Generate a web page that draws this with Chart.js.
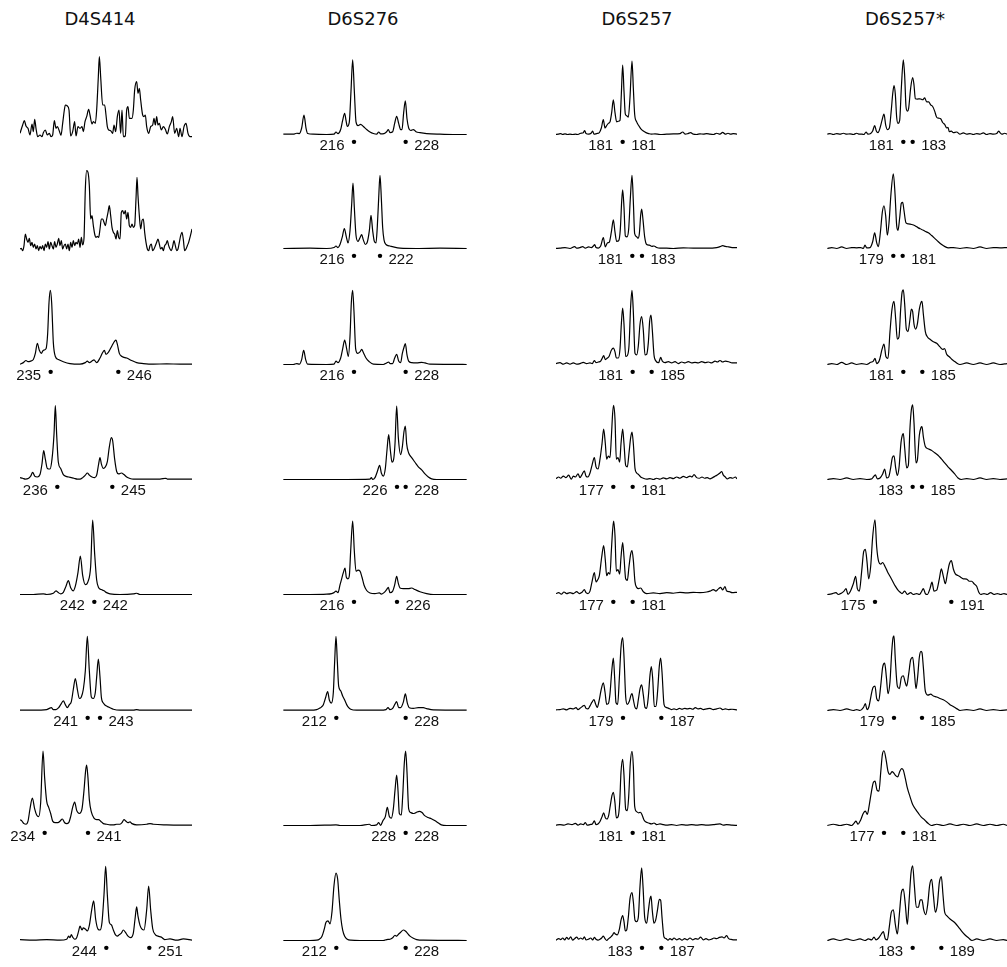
<!DOCTYPE html>
<html>
<head>
<meta charset="utf-8">
<script src="https://cdn.jsdelivr.net/npm/chart.js@4.4.1/dist/chart.umd.min.js"></script>
<style>
  body { margin: 0; background: #fff; width: 1007px; height: 967px; position: relative; overflow: hidden; }
  .title { position: absolute; top: 8px; line-height: 18px; font: 18px "DejaVu Sans", sans-serif; color: #111; transform: translateX(-50%); white-space: nowrap; }
  canvas { position: absolute; }
</style>
</head>
<body>
<script>
// marker names (columns), 8 samples each
const markers = ['D4S414', 'D6S276', 'D6S257', 'D6S257*'];

// traces: flat x,y pairs (x = scan position, y = signal)
const d4s414_r1 = [0,11, 8,36, 13,49, 18,33, 24,26, 30,6, 36,39, 40,16, 44,53, 48,26, 53,1, 60,6, 66,1, 70,13, 76,21, 82,6, 88,11, 93,1, 98,6, 103,49, 108,26, 112,31, 118,18, 123,5, 128,41, 133,81, 136,96, 142,93, 147,81, 152,3, 158,16, 164,46, 168,3, 174,31, 180,26, 186,31, 190,16, 195,46, 200,61, 206,83, 210,66, 216,39, 220,46, 226,41, 230,81, 235,181, 238,241, 242,181, 248,96, 254,96, 258,66, 262,31, 266,21, 272,19, 278,11, 282,36, 287,16, 292,61, 297,81, 302,11, 306,81, 310,1, 316,3, 320,81, 324,91, 328,56, 336,56, 340,81, 344,141, 350,166, 354,131, 358,146, 362,111, 368,66, 372,61, 376,66, 380,31, 386,11, 392,31, 398,36, 402,56, 406,36, 410,61, 414,36, 418,41, 424,21, 430,31, 436,23, 442,9, 448,31, 454,46, 458,61, 464,11, 470,26, 476,1, 480,26, 486,1, 492,31, 498,41, 504,11, 510,1, 516,1];
const d4s414_r2 = [0,6, 4,8, 8,1, 12,16, 16,51, 20,36, 24,26, 28,38, 32,16, 36,26, 40,11, 44,21, 48,6, 52,16, 56,1, 60,14, 64,6, 68,16, 72,1, 76,21, 80,11, 84,28, 88,6, 92,26, 96,16, 100,6, 104,28, 108,11, 112,21, 116,38, 120,16, 124,31, 128,6, 132,16, 136,21, 140,6, 144,21, 148,1, 152,26, 156,11, 160,31, 164,16, 168,26, 172,21, 176,36, 180,11, 184,41, 188,18, 192,38, 196,186, 200,241, 204,236, 208,196, 212,96, 216,106, 220,76, 224,51, 228,41, 232,44, 236,41, 240,66, 244,96, 248,96, 252,86, 256,76, 260,96, 264,116, 268,136, 272,106, 276,71, 280,56, 284,51, 288,36, 292,61, 296,41, 300,36, 304,116, 308,121, 312,111, 316,121, 320,96, 324,116, 328,76, 332,71, 336,81, 340,71, 344,76, 348,156, 351,221, 354,166, 358,106, 362,66, 366,91, 370,96, 374,56, 378,26, 382,6, 386,1, 390,16, 394,21, 398,1, 402,6, 406,16, 410,26, 414,36, 418,21, 422,6, 426,11, 430,1, 434,16, 438,21, 442,31, 446,16, 450,6, 454,1, 458,14, 462,31, 466,16, 470,1, 474,6, 478,26, 482,46, 486,56, 490,34, 494,1, 498,6, 502,16, 506,26, 510,41, 516,66];
const d4s414_r3 = [0,1, 10,6, 18,13, 24,9, 32,11, 40,16, 46,36, 52,69, 58,46, 64,36, 70,46, 78,51, 83,101, 87,201, 91,241, 95,201, 100,71, 106,26, 115,16, 130,9, 150,3, 180,1, 196,6, 202,11, 208,6, 216,11, 222,15, 230,6, 240,21, 248,39, 253,46, 258,33, 266,41, 276,61, 284,76, 288,79, 292,66, 298,36, 306,26, 320,21, 335,13, 350,6, 370,3, 400,1, 440,2, 480,1, 516,1];
const d4s414_r4 = [0,6, 8,4, 16,1, 26,4, 32,11, 38,23, 44,11, 52,8, 60,16, 66,51, 71,94, 76,66, 82,36, 90,34, 96,66, 102,146, 106,240, 110,146, 115,56, 122,36, 130,16, 138,10, 146,8, 154,6, 162,4, 172,1, 180,1, 188,6, 196,14, 202,21, 208,14, 216,8, 224,6, 230,14, 236,51, 240,71, 244,51, 250,36, 256,41, 262,58, 268,106, 274,136, 278,126, 284,66, 290,26, 296,18, 304,21, 312,16, 320,8, 330,3, 340,1, 380,1, 420,1, 438,4, 442,1, 480,1, 516,1];
const d4s414_r5 = [0,0, 40,0, 70,2, 80,0, 100,4, 108,12, 114,7, 122,2, 130,7, 138,27, 145,45, 152,22, 160,12, 166,27, 174,72, 181,125, 188,62, 196,32, 204,42, 212,92, 218,242, 224,132, 230,47, 236,22, 244,16, 252,12, 260,6, 270,2, 300,0, 340,2, 350,4, 360,0, 420,0, 516,0];
const d4s414_r6 = [0,1, 40,1, 80,3, 88,7, 94,9, 100,3, 108,3, 116,9, 122,19, 130,31, 136,19, 142,9, 148,19, 154,29, 160,69, 166,104, 172,69, 178,39, 184,44, 190,69, 196,129, 202,241, 208,129, 214,44, 220,39, 226,59, 230,109, 235,167, 240,109, 244,44, 250,24, 256,17, 262,13, 270,9, 280,4, 300,1, 340,1, 350,3, 360,1, 516,1];
const d4s414_r7 = [0,19, 6,14, 12,6, 18,4, 24,14, 30,54, 37,89, 44,54, 50,34, 56,29, 62,74, 69,242, 74,154, 80,79, 86,59, 92,39, 98,14, 106,9, 114,9, 120,14, 127,21, 134,9, 140,6, 146,9, 152,29, 158,59, 164,76, 170,49, 178,39, 186,54, 192,114, 197,179, 200,196, 204,154, 208,84, 214,44, 222,24, 230,19, 236,19, 242,14, 250,6, 260,4, 270,2, 280,2, 290,4, 300,4, 306,9, 312,19, 318,14, 324,9, 330,12, 336,6, 350,2, 380,4, 390,6, 400,4, 440,2, 516,1];
const d4s414_r8 = [0,3, 40,1, 80,3, 120,1, 140,4, 146,14, 150,9, 154,19, 158,11, 164,4, 170,9, 176,31, 180,47, 186,34, 190,41, 196,37, 202,31, 208,49, 215,99, 221,129, 227,69, 234,37, 240,34, 246,59, 252,149, 257,241, 262,149, 268,59, 274,51, 280,34, 286,19, 292,14, 298,19, 304,24, 310,34, 316,27, 324,14, 332,9, 340,24, 345,69, 350,109, 354,79, 360,49, 366,37, 372,34, 380,99, 386,177, 392,99, 398,39, 406,19, 414,14, 424,11, 434,3, 450,5, 470,1, 490,5, 516,1];

const d6s276_r1 = [1,1, 31,1, 41,4, 49,3, 56,21, 63,63, 69,21, 74,3, 91,1, 131,0, 153,1, 159,8, 165,3, 173,16, 179,46, 185,69, 189,46, 193,26, 199,41, 204,141, 209,243, 214,141, 219,41, 225,29, 233,33, 241,26, 251,16, 261,8, 271,3, 281,1, 287,8, 293,2, 303,3, 311,9, 316,16, 321,6, 329,9, 335,36, 341,59, 347,36, 353,16, 357,16, 362,71, 367,109, 372,51, 377,21, 383,13, 391,16, 399,9, 411,6, 431,3, 471,1, 511,0, 551,0];
const d6s276_r2 = [1,0, 81,1, 131,0, 153,3, 159,8, 165,3, 171,13, 178,38, 184,65, 190,38, 195,18, 201,58, 206,143, 210,213, 214,133, 219,43, 225,23, 231,35, 236,45, 241,28, 247,13, 253,21, 259,58, 264,108, 269,58, 274,23, 279,18, 283,73, 287,163, 291,238, 295,163, 299,68, 303,28, 309,13, 321,8, 331,5, 351,1, 401,0, 471,1, 551,0];
const d6s276_r3 = [1,0, 31,0, 41,3, 49,1, 56,16, 62,46, 68,16, 74,1, 131,0, 153,1, 159,11, 165,6, 173,21, 179,51, 185,79, 191,51, 196,26, 201,91, 205,201, 209,241, 213,171, 218,51, 224,36, 231,41, 236,49, 241,39, 249,21, 259,9, 271,1, 301,0, 311,5, 317,8, 321,3, 329,3, 335,21, 341,33, 347,11, 353,6, 358,36, 363,56, 367,68, 372,31, 377,11, 386,6, 401,5, 416,7, 426,5, 441,1, 551,0];
const d6s276_r4 = [1,0, 131,0, 191,0, 261,1, 265,6, 269,0, 276,6, 283,26, 290,46, 295,21, 301,11, 307,36, 312,96, 317,146, 322,96, 327,56, 332,66, 336,116, 341,239, 346,136, 353,81, 358,106, 363,156, 367,174, 371,116, 377,86, 386,71, 396,56, 406,41, 416,31, 426,18, 436,8, 446,2, 461,0, 551,0];
const d6s276_r5 = [1,0, 81,0, 131,1, 146,3, 153,6, 159,11, 165,6, 171,31, 176,51, 181,71, 186,86, 190,56, 195,51, 199,61, 203,141, 209,239, 214,141, 219,76, 225,79, 231,76, 237,56, 243,31, 251,13, 261,5, 276,3, 289,5, 295,1, 303,6, 311,16, 316,23, 321,6, 329,11, 335,31, 341,59, 346,36, 351,21, 361,19, 376,19, 386,21, 396,16, 411,9, 431,3, 451,0, 551,0];
const d6s276_r6 = [1,1, 81,1, 101,3, 109,7, 115,11, 121,19, 127,39, 134,61, 139,34, 145,24, 151,59, 155,159, 159,241, 163,159, 167,79, 173,64, 179,47, 185,34, 191,19, 197,9, 203,4, 221,1, 291,1, 309,3, 315,9, 321,3, 329,7, 335,19, 341,29, 347,9, 353,9, 361,27, 367,54, 373,24, 379,9, 391,7, 406,9, 421,9, 431,6, 451,2, 551,1];
const d6s276_r7 = [1,0, 81,0, 131,1, 159,2, 171,0, 231,0, 259,4, 265,0, 281,2, 287,9, 293,0, 299,14, 307,29, 313,59, 319,29, 325,24, 331,54, 336,114, 341,164, 345,114, 349,39, 355,34, 359,94, 364,204, 368,242, 372,174, 377,54, 383,42, 391,39, 399,42, 409,46, 417,42, 425,32, 435,26, 445,22, 455,16, 465,9, 475,2, 491,0, 551,0];
const d6s276_r8 = [1,0, 81,0, 101,1, 109,4, 117,14, 123,34, 129,59, 135,64, 141,54, 147,94, 153,179, 159,219, 164,199, 169,129, 174,69, 179,34, 185,14, 193,4, 203,1, 231,0, 301,0, 311,3, 321,4, 329,9, 336,17, 341,14, 347,21, 353,27, 361,34, 367,31, 373,24, 381,14, 391,7, 401,3, 421,1, 551,0];

const d6s257_r1 = [0,0, 7,1, 14,3, 20,0, 27,2, 34,0, 42,1, 50,0, 58,1, 66,0, 74,4, 82,6, 86,13, 90,3, 98,1, 106,5, 110,11, 114,1, 122,3, 130,6, 136,21, 142,48, 147,21, 152,29, 157,36, 162,41, 167,71, 172,113, 177,71, 182,41, 187,43, 192,46, 196,131, 200,226, 204,141, 208,66, 212,61, 217,56, 222,121, 228,239, 232,151, 236,66, 242,41, 248,29, 254,19, 262,11, 270,6, 278,3, 286,1, 297,2, 312,0, 332,1, 352,2, 372,3, 380,8, 388,1, 396,3, 404,6, 412,1, 422,0, 432,2, 442,1, 452,3, 462,1, 472,0, 482,4, 492,1, 500,7, 508,1, 516,4, 524,1, 532,3, 543,1];
const d6s257_r2 = [0,0, 12,1, 27,3, 42,0, 56,6, 62,1, 72,3, 80,6, 88,1, 98,5, 106,3, 112,8, 116,13, 120,3, 127,1, 134,8, 142,35, 148,5, 154,18, 160,21, 166,53, 172,93, 177,53, 182,23, 188,25, 193,63, 197,153, 200,191, 204,133, 208,41, 213,38, 218,63, 223,163, 228,238, 232,153, 236,48, 242,38, 246,33, 250,48, 254,108, 257,128, 261,93, 266,38, 272,13, 280,11, 288,7, 294,8, 302,3, 312,1, 332,1, 352,0, 382,2, 412,1, 452,1, 482,3, 492,6, 500,9, 508,7, 518,5, 528,3, 543,3];
const d6s257_r3 = [0,3, 12,6, 22,1, 32,5, 42,1, 52,5, 62,1, 72,3, 82,7, 92,3, 102,5, 109,3, 115,13, 120,6, 127,8, 134,11, 139,21, 143,29, 148,16, 154,21, 159,26, 166,46, 172,53, 177,41, 181,21, 187,21, 192,51, 196,131, 200,183, 204,131, 209,26, 214,29, 219,61, 224,191, 228,241, 232,171, 237,36, 242,31, 247,61, 252,131, 257,156, 262,111, 267,31, 272,33, 277,71, 281,141, 285,161, 289,111, 294,31, 300,11, 308,6, 314,23, 319,11, 327,6, 337,9, 347,5, 357,9, 367,3, 377,8, 387,5, 397,9, 407,5, 417,7, 427,5, 437,9, 447,6, 457,8, 467,5, 477,11, 484,8, 492,13, 500,8, 508,11, 518,9, 528,5, 543,5];
const d6s257_r4 = [0,3, 8,8, 14,4, 22,11, 30,6, 38,14, 46,1, 52,11, 58,8, 66,18, 72,6, 78,16, 85,28, 90,11, 96,8, 102,21, 108,46, 115,71, 120,41, 126,34, 132,66, 138,116, 143,164, 148,116, 152,66, 157,76, 162,71, 166,136, 170,216, 173,241, 177,196, 181,66, 186,71, 191,56, 195,116, 200,164, 204,116, 209,46, 214,41, 219,86, 224,136, 228,154, 232,116, 237,36, 242,21, 248,16, 254,8, 262,4, 272,1, 282,3, 292,0, 302,4, 312,1, 322,5, 332,2, 342,6, 352,3, 362,8, 372,4, 382,10, 392,6, 402,11, 408,8, 414,16, 422,6, 430,4, 438,8, 446,4, 454,6, 462,2, 470,6, 478,11, 486,16, 492,21, 497,26, 502,14, 508,8, 514,2, 522,6, 530,4, 538,8, 543,2];
const d6s257_r5 = [0,3, 8,6, 16,1, 24,8, 32,3, 42,6, 52,3, 62,9, 70,3, 78,7, 85,16, 90,6, 96,3, 102,11, 108,41, 115,71, 120,41, 124,46, 130,61, 137,121, 143,159, 148,111, 152,61, 157,71, 162,66, 166,141, 170,211, 173,239, 177,191, 181,76, 186,81, 191,66, 195,121, 200,169, 204,121, 209,51, 214,46, 219,91, 224,131, 228,143, 232,111, 237,41, 242,23, 248,19, 254,21, 262,9, 272,3, 292,5, 312,3, 332,6, 352,4, 372,7, 392,5, 412,7, 432,6, 452,8, 462,11, 472,16, 480,11, 488,19, 494,23, 500,15, 507,26, 512,11, 520,9, 528,6, 543,7];
const d6s257_r6 = [0,2, 12,3, 22,5, 32,2, 42,7, 52,5, 60,9, 66,3, 72,7, 79,13, 85,17, 90,7, 96,5, 102,15, 108,27, 114,35, 119,20, 124,10, 129,30, 135,65, 142,90, 147,60, 152,20, 157,22, 162,55, 167,125, 172,170, 176,105, 180,25, 185,20, 190,105, 195,205, 200,237, 204,175, 209,45, 214,20, 220,30, 225,50, 228,55, 232,35, 237,10, 242,5, 247,35, 252,70, 257,83, 262,50, 267,10, 272,7, 277,45, 282,115, 286,143, 290,105, 295,13, 300,13, 305,65, 310,145, 314,170, 318,125, 324,20, 330,10, 338,7, 346,3, 354,5, 362,3, 370,7, 378,4, 386,7, 394,5, 402,7, 410,4, 418,9, 426,5, 434,7, 442,3, 452,5, 462,7, 472,3, 482,5, 492,8, 500,3, 508,5, 518,3, 528,4, 543,2];
const d6s257_r7 = [0,1, 12,3, 24,1, 36,5, 48,3, 58,7, 66,1, 74,5, 82,3, 88,9, 94,1, 102,3, 109,5, 115,15, 120,3, 126,5, 132,13, 138,28, 143,41, 148,25, 153,21, 158,33, 164,73, 168,98, 172,108, 177,73, 181,25, 186,28, 191,73, 195,173, 200,215, 204,163, 209,53, 214,48, 218,93, 223,203, 228,241, 232,193, 236,63, 242,45, 248,41, 253,43, 258,35, 264,18, 270,11, 278,8, 286,5, 294,8, 302,3, 312,5, 322,3, 332,1, 347,3, 362,0, 377,3, 392,1, 407,3, 422,1, 437,3, 452,1, 472,3, 492,5, 502,1, 512,3, 528,1, 543,0];
const d6s257_r8 = [0,1, 8,6, 14,3, 20,8, 26,2, 32,10, 38,4, 44,12, 50,1, 56,6, 62,11, 68,4, 74,8, 80,4, 85,12, 90,2, 97,4, 104,8, 110,2, 115,10, 120,4, 126,1, 132,4, 137,8, 142,14, 147,6, 152,0, 158,6, 164,11, 170,18, 174,26, 178,21, 184,18, 190,36, 195,66, 200,81, 204,61, 208,31, 212,34, 217,76, 222,136, 228,156, 232,126, 237,66, 242,61, 247,76, 252,176, 257,236, 261,176, 266,76, 272,56, 277,96, 282,136, 285,144, 289,96, 294,56, 299,66, 304,96, 310,134, 314,131, 318,76, 324,11, 330,6, 336,1, 342,6, 348,2, 354,8, 362,2, 370,6, 378,1, 386,6, 394,2, 402,8, 410,2, 418,6, 426,4, 434,11, 442,2, 450,6, 458,2, 466,4, 474,8, 482,6, 490,10, 498,12, 504,8, 512,16, 518,6, 528,3, 543,2];

const d6s257s_r1 = [1,1, 9,3, 19,0, 29,3, 39,1, 49,4, 59,1, 69,2, 79,0, 89,4, 97,1, 105,1, 111,0, 117,8, 123,1, 131,3, 137,11, 143,29, 148,11, 153,6, 159,21, 165,46, 171,66, 176,31, 181,16, 187,21, 193,81, 197,131, 201,159, 205,131, 209,56, 213,36, 218,46, 223,151, 229,243, 233,191, 237,91, 241,76, 245,86, 251,151, 257,185, 261,161, 265,116, 271,115, 279,116, 287,113, 293,119, 299,106, 305,106, 311,96, 317,91, 323,76, 329,56, 335,53, 341,51, 347,39, 353,33, 359,21, 363,23, 367,9, 373,11, 379,6, 389,8, 399,1, 409,5, 419,1, 429,3, 439,0, 449,3, 459,1, 469,5, 479,0, 489,3, 499,1, 509,3, 515,11, 519,6, 525,1, 533,4, 540,1];
const d6s257s_r2 = [1,0, 14,3, 29,0, 44,5, 59,0, 74,3, 89,2, 101,3, 109,0, 114,11, 119,2, 129,3, 137,22, 143,51, 149,19, 154,6, 160,51, 166,118, 171,139, 176,107, 181,43, 186,83, 192,179, 199,243, 204,179, 209,75, 213,59, 218,99, 223,147, 227,150, 231,123, 237,83, 244,80, 254,78, 264,74, 274,67, 284,62, 294,56, 304,51, 314,42, 324,32, 334,22, 344,13, 354,6, 364,2, 379,3, 399,0, 419,3, 439,0, 459,5, 479,0, 499,3, 519,2, 540,3];
const d6s257s_r3 = [1,0, 14,3, 29,0, 44,7, 59,0, 74,5, 89,0, 104,3, 119,0, 131,7, 139,11, 144,20, 149,3, 157,13, 165,49, 171,66, 177,25, 183,20, 189,107, 195,180, 201,205, 206,148, 211,82, 216,90, 221,180, 225,233, 229,243, 233,197, 238,115, 243,107, 249,148, 253,180, 257,172, 261,131, 266,115, 271,131, 277,180, 282,202, 285,205, 289,164, 295,107, 301,90, 309,82, 319,74, 329,69, 339,57, 347,49, 353,52, 359,33, 367,25, 375,16, 383,10, 391,3, 399,0, 419,5, 439,0, 459,5, 479,0, 499,5, 519,0, 540,3];
const d6s257s_r4 = [1,0, 19,3, 39,0, 59,5, 79,0, 99,3, 119,0, 134,2, 139,8, 145,15, 151,2, 159,5, 167,18, 173,34, 179,5, 185,8, 191,38, 196,71, 201,77, 206,38, 211,13, 216,38, 222,120, 226,144, 229,149, 233,103, 239,38, 244,46, 249,169, 253,226, 257,243, 261,185, 267,54, 271,62, 277,144, 282,169, 285,172, 289,139, 295,107, 303,100, 313,95, 323,87, 333,79, 343,67, 353,54, 363,41, 373,30, 383,18, 393,5, 403,0, 419,3, 439,0, 459,5, 479,0, 499,3, 519,0, 540,2];
const d6s257s_r5 = [1,0, 14,2, 27,6, 34,0, 44,5, 51,11, 57,19, 63,0, 69,8, 79,35, 86,59, 91,19, 97,11, 104,75, 110,139, 115,147, 120,107, 125,51, 131,91, 137,187, 144,243, 149,155, 155,107, 161,99, 167,104, 174,91, 181,75, 189,59, 197,43, 205,27, 213,14, 219,8, 225,3, 233,11, 241,0, 251,6, 259,0, 269,3, 277,0, 283,8, 289,19, 295,3, 301,0, 309,19, 315,40, 321,11, 329,14, 337,51, 343,83, 349,59, 355,35, 361,67, 367,99, 373,110, 379,83, 385,67, 393,62, 401,56, 409,51, 419,50, 427,43, 434,43, 441,35, 449,27, 455,8, 461,0, 471,3, 481,0, 491,6, 501,0, 511,3, 521,0, 531,3, 540,0];
const d6s257s_r6 = [1,0, 19,3, 39,0, 59,5, 79,0, 89,3, 99,0, 109,9, 115,22, 120,3, 126,13, 132,47, 138,75, 144,79, 149,39, 155,31, 161,79, 167,141, 173,154, 178,110, 183,55, 189,94, 194,188, 198,236, 201,243, 205,165, 211,79, 217,71, 223,107, 229,113, 234,94, 239,79, 245,118, 251,165, 257,173, 262,126, 267,71, 272,110, 277,173, 282,192, 285,188, 289,141, 295,63, 303,50, 311,53, 319,47, 329,44, 339,39, 349,35, 359,28, 369,19, 379,13, 389,6, 399,0, 419,3, 439,0, 459,5, 479,0, 499,3, 519,0, 540,2];
const d6s257s_r7 = [1,0, 19,4, 39,0, 59,4, 74,0, 81,7, 87,14, 93,4, 101,18, 109,40, 115,47, 121,36, 127,68, 133,108, 139,140, 144,144, 150,115, 156,112, 161,171, 166,230, 171,243, 177,216, 183,176, 189,166, 195,175, 200,171, 206,162, 212,158, 218,175, 224,185, 229,180, 235,153, 241,122, 249,94, 257,68, 265,54, 274,40, 283,27, 293,18, 303,7, 313,0, 329,4, 349,0, 369,5, 389,0, 409,4, 429,0, 449,5, 469,0, 489,4, 509,0, 529,4, 540,0];
const d6s257s_r8 = [1,0, 19,5, 39,0, 59,5, 79,0, 99,5, 114,0, 124,5, 134,2, 141,11, 147,2, 155,8, 163,21, 169,29, 175,5, 181,2, 187,45, 193,92, 199,100, 205,52, 211,21, 217,84, 223,155, 229,167, 235,116, 241,52, 246,124, 252,219, 257,243, 262,180, 268,108, 274,108, 280,132, 285,132, 290,100, 296,84, 302,116, 308,180, 314,199, 319,149, 325,92, 331,116, 337,188, 343,208, 348,148, 353,92, 359,81, 367,72, 375,65, 385,56, 395,43, 405,29, 415,17, 425,8, 435,0, 449,5, 469,0, 489,5, 509,0, 529,3, 540,0];

// called alleles (bp) per sample, and the scan position of each call
const d4s414_alleles = [null, null, [235, 246], [236, 245], [242, 242], [241, 243], [234, 241], [244, 251]];
const d4s414_calls = [null, null, [92, 295], [112, 277], [223, 223], [203, 240], [74, 204], [259, 388]];
const d6s276_alleles = [[216, 228], [216, 222], [216, 228], [226, 228], [216, 226], [212, 228], [228, 228], [212, 228]];
const d6s276_calls = [[213, 368], [213, 291], [213, 368], [342, 368], [213, 342], [160, 368], [368, 368], [160, 368]];
const d6s257_alleles = [[181, 181], [181, 183], [181, 185], [177, 181], [177, 181], [179, 187], [181, 181], [183, 187]];
const d6s257_calls = [[200, 200], [229, 258], [230, 287], [172, 230], [172, 230], [201, 316], [230, 230], [258, 316]];
const d6s257s_alleles = [[181, 183], [179, 181], [181, 185], [183, 185], [175, 191], [179, 185], [177, 181], [183, 189]];
const d6s257s_calls = [[229, 257], [199, 227], [229, 286], [257, 285], [144, 373], [201, 285], [171, 229], [257, 343]];

// scan range shown for each marker
const scanMax = [516, 552, 543, 540];

const traces = [
  [d4s414_r1, d4s414_r2, d4s414_r3, d4s414_r4, d4s414_r5, d4s414_r6, d4s414_r7, d4s414_r8],
  [d6s276_r1, d6s276_r2, d6s276_r3, d6s276_r4, d6s276_r5, d6s276_r6, d6s276_r7, d6s276_r8],
  [d6s257_r1, d6s257_r2, d6s257_r3, d6s257_r4, d6s257_r5, d6s257_r6, d6s257_r7, d6s257_r8],
  [d6s257s_r1, d6s257s_r2, d6s257s_r3, d6s257s_r4, d6s257s_r5, d6s257s_r6, d6s257s_r7, d6s257s_r8]
];
const alleles = [d4s414_alleles, d6s276_alleles, d6s257_alleles, d6s257s_alleles];
const calls = [d4s414_calls, d6s276_calls, d6s257_calls, d6s257s_calls];

// layout
const baseY = [137, 251, 367, 482, 597, 713, 828, 943];
const panelX = [20, 283, 556, 827];
const titleX = [100, 363, 637, 905];
const PAD = 30;
const Y_MIN = -57, Y_MAX = 252;

// allele numbers either side of the call dots
const alleleLabels = {
  id: 'alleleLabels',
  afterDatasetsDraw(chart, args, opts) {
    if (!opts.alleles) return;
    const { ctx, scales: { x, y } } = chart;
    const ty = y.getPixelForValue(-49);
    ctx.save();
    ctx.font = '15px "Liberation Sans", Arial, sans-serif';
    ctx.fillStyle = '#111';
    ctx.textBaseline = 'alphabetic';
    ctx.textAlign = 'right';
    ctx.fillText(String(opts.alleles[0]), x.getPixelForValue(opts.calls[0]) - 9.5, ty);
    ctx.textAlign = 'left';
    ctx.fillText(String(opts.alleles[1]), x.getPixelForValue(opts.calls[1]) + 8.5, ty);
    ctx.restore();
  }
};

markers.forEach((name, c) => {
  const t = document.createElement('div');
  t.className = 'title';
  t.style.left = titleX[c] + 'px';
  t.textContent = name;
  document.body.appendChild(t);

  traces[c].forEach((tr, r) => {
    const cv = document.createElement('canvas');
    const w = scanMax[c] / 3 + 2 * PAD;
    const h = (Y_MAX - Y_MIN) / 3;
    cv.width = w; cv.height = h;
    cv.style.width = w + 'px'; cv.style.height = h + 'px';
    cv.style.left = (panelX[c] - PAD) + 'px';
    cv.style.top = (baseY[r] - Y_MAX / 3) + 'px';
    document.body.appendChild(cv);

    const pts = [];
    for (let i = 0; i < tr.length; i += 2) pts.push({ x: tr[i], y: tr[i + 1] });
    const call = calls[c][r];
    const dots = call ? (call[0] === call[1] ? [call[0]] : call).map(v => ({ x: v, y: -24 })) : [];

    new Chart(cv, {
      type: 'line',
      data: {
        datasets: [
          { data: pts, borderColor: '#000', borderWidth: 1.2, pointRadius: 0,
            cubicInterpolationMode: 'monotone', fill: false },
          { data: dots, showLine: false, pointRadius: 2.2, pointBackgroundColor: '#000',
            pointBorderWidth: 0 }
        ]
      },
      options: {
        responsive: false,
        animation: false,
        devicePixelRatio: 1,
        events: [],
        layout: { padding: { left: PAD, right: PAD, top: 0, bottom: 0 } },
        plugins: {
          legend: { display: false },
          tooltip: { enabled: false },
          alleleLabels: { alleles: alleles[c][r], calls: call }
        },
        scales: {
          x: { type: 'linear', display: false, min: 0, max: scanMax[c] },
          y: { display: false, min: Y_MIN, max: Y_MAX }
        }
      },
      plugins: [alleleLabels]
    });
  });
});
</script>
</body>
</html>
